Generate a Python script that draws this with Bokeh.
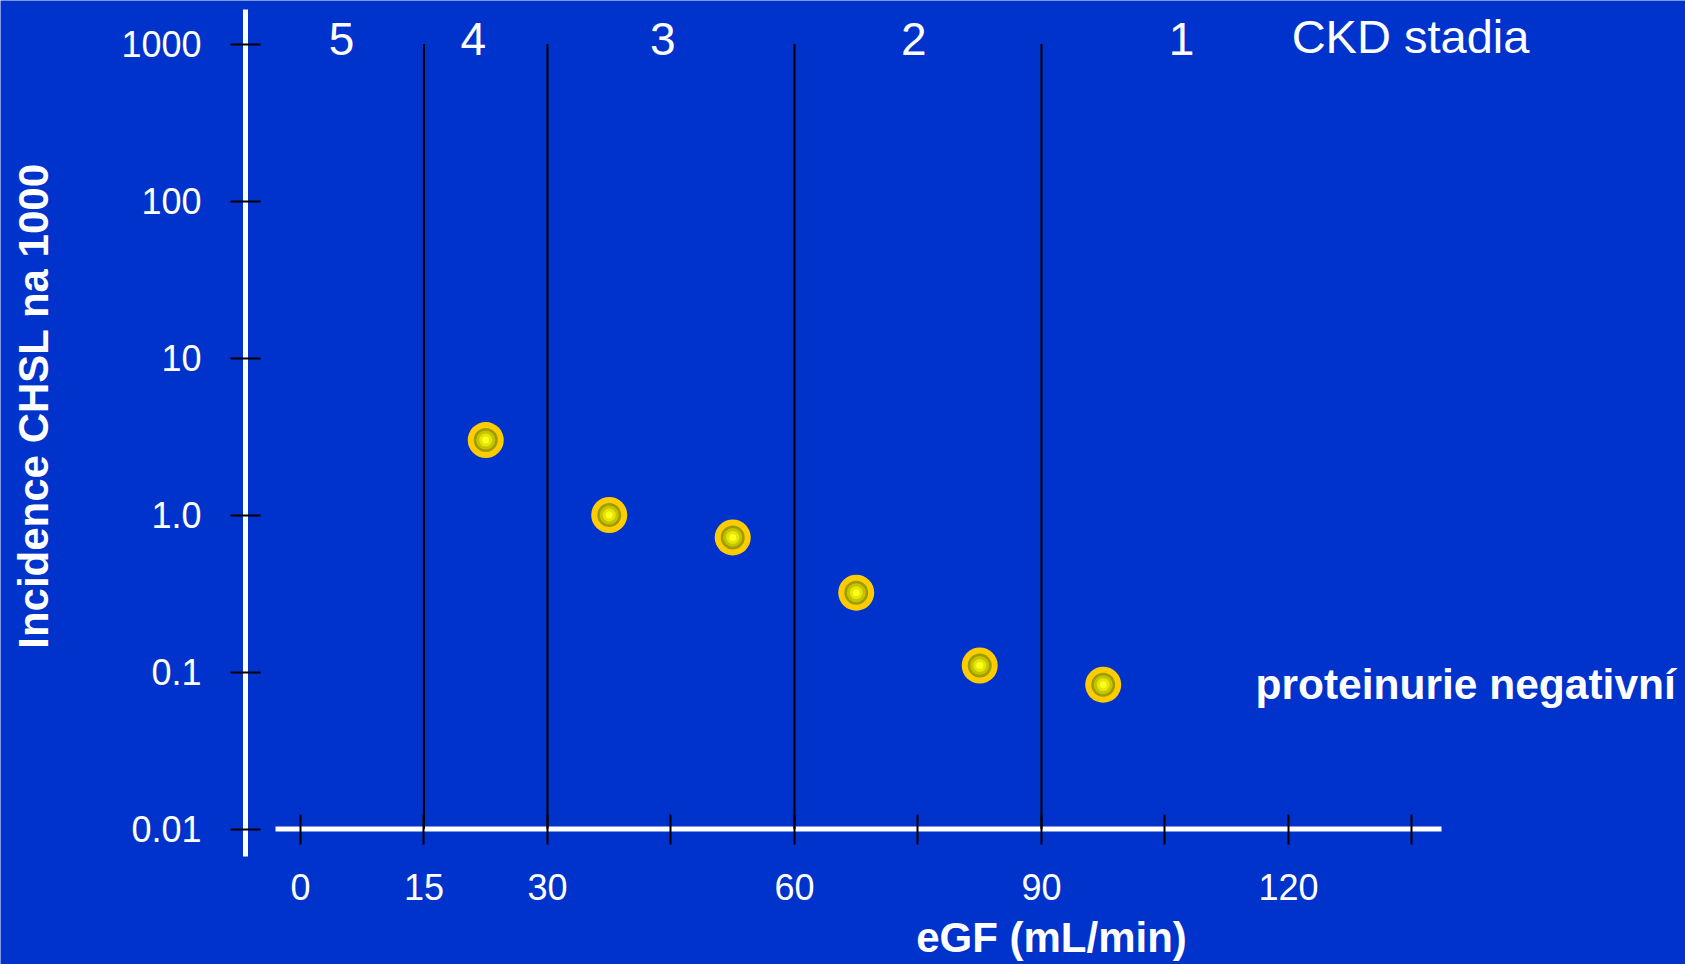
import math
from bokeh.plotting import figure
from bokeh.models import Range1d, FixedTicker, Label
from bokeh.core.properties import value
from bokeh.embed import file_html
from bokeh.resources import INLINE

# ---------------- data ----------------
egf_mid = [22.5, 37.5, 52.5, 67.5, 82.5, 97.5]
incidence = [3.0, 1.0, 0.72, 0.32, 0.11, 0.083]
stage_bounds = [15, 30, 60, 90]
stage_names = ["5", "4", "3", "2", "1"]
stage_label_x = [5, 21, 44, 74.5, 107]
x_ticks = [0, 15, 30, 45, 60, 75, 90, 105, 120, 135]
x_tick_labels = ["0", "15", "30", "", "60", "", "90", "", "120", ""]
y_ticks = [0.01, 0.1, 1, 10, 100, 1000]
y_tick_labels = ["0.01", "0.1", "1.0", "10", "100", "1000"]
series_label = "proteinurie negativní"
stage_title = "CKD stadia"
x_title = "eGF (mL/min)"
y_title = "Incidence CHSL na 1000"

# ---------------- layout (page pixels) ----------------
BG = "#0033CC"
W, H = 1685, 964
PAGE = 0
X0_PX = 300.0
PX_PER_X = 8.233
Y1000_PX = 43.5
PX_PER_DEC = 157.0
FONT = "Liberation Sans"


def xd(px):
    return (px - X0_PX) / PX_PER_X


def yd(py):
    return 10 ** (3 - (py - Y1000_PX) / PX_PER_DEC)


p = figure(
    width=W, height=H,
    x_range=Range1d(xd(PAGE), xd(PAGE + W)),
    y_range=Range1d(yd(PAGE + H), yd(PAGE)),
    y_axis_type="log",
    output_backend="svg",
    toolbar_location=None,
    min_border=0,
    background_fill_color=BG,
    border_fill_color=BG,
    outline_line_color=None,
)
p.grid.visible = False

# white axis rules
p.segment(x0=[xd(245)], x1=[xd(245)], y0=[yd(856)], y1=[yd(9)],
          line_color="white", line_width=5)
p.segment(x0=[xd(275)], x1=[xd(1441)], y0=[y_ticks[0]], y1=[y_ticks[0]],
          line_color="white", line_width=5)

# CKD stage boundaries
p.segment(x0=stage_bounds, x1=stage_bounds,
          y0=[y_ticks[0]] * len(stage_bounds), y1=[y_ticks[-1]] * len(stage_bounds),
          line_color="black", line_width=2)

# markers (gold ring + shaded yellow core)
p.scatter(egf_mid, incidence, size=36, fill_color="#FFCC00", line_color=None)
p.scatter(egf_mid, incidence, size=24, fill_color="#9E9C00", line_color=None)
p.scatter(egf_mid, incidence, size=19, fill_color="#C6C400", line_color=None)
p.scatter(egf_mid, incidence, size=13, fill_color="#E6E600", line_color=None)
p.scatter(egf_mid, incidence, size=7, fill_color="#FFFF20", line_color=None)

# stage numbers
p.text(x=stage_label_x, y=[y_ticks[-1]] * len(stage_names), text=stage_names,
       text_font=value(FONT), text_font_size="46px", text_color="white",
       text_align="center", text_baseline="middle", y_offset=-5.5)

# axes
xa = p.xaxis[0]
xa.fixed_location = y_ticks[0]
xa.ticker = FixedTicker(ticks=x_ticks)
xa.major_label_overrides = dict(zip(x_ticks, x_tick_labels))
xa.axis_line_color = None
xa.major_tick_in = 15
xa.major_tick_out = 15
xa.major_tick_line_color = "black"
xa.major_tick_line_width = 2
xa.minor_tick_line_color = None
xa.major_label_text_font = FONT
xa.major_label_text_font_size = "36px"
xa.major_label_text_color = "white"
xa.major_label_standoff = 30

ya = p.yaxis[0]
ya.fixed_location = xd(245)
ya.ticker = FixedTicker(ticks=y_ticks)
ya.major_label_overrides = dict(zip(y_ticks, y_tick_labels))
ya.axis_line_color = None
ya.major_tick_in = 15
ya.major_tick_out = 15
ya.major_tick_line_color = "black"
ya.major_tick_line_width = 2
ya.minor_tick_line_color = None
ya.major_label_text_font = FONT
ya.major_label_text_font_size = "36px"
ya.major_label_text_color = "white"
ya.major_label_standoff = 29

# texts
p.add_layout(Label(x=xd(1410), y=yd(35.6), text=stage_title, text_align="center",
                   text_baseline="middle", text_font=FONT, text_font_size="47px",
                   text_color="white"))
p.add_layout(Label(x=xd(1255), y=yd(684), text=series_label, text_align="left",
                   text_baseline="alphabetic", text_font=FONT, text_font_size="42.5px",
                   text_font_style="bold", text_color="white"))
p.add_layout(Label(x=xd(1051), y=yd(937), text=x_title, text_align="center",
                   text_baseline="alphabetic", text_font=FONT, text_font_size="42px",
                   text_font_style="bold", text_color="white"))
p.add_layout(Label(x=xd(32.5), y=yd(405.5), text=y_title, angle=math.pi / 2,
                   text_align="center", text_baseline="alphabetic", text_font=FONT,
                   text_font_size="42px", text_font_style="bold", text_color="white"))

open("out.html", "w").write(file_html(p, INLINE))
